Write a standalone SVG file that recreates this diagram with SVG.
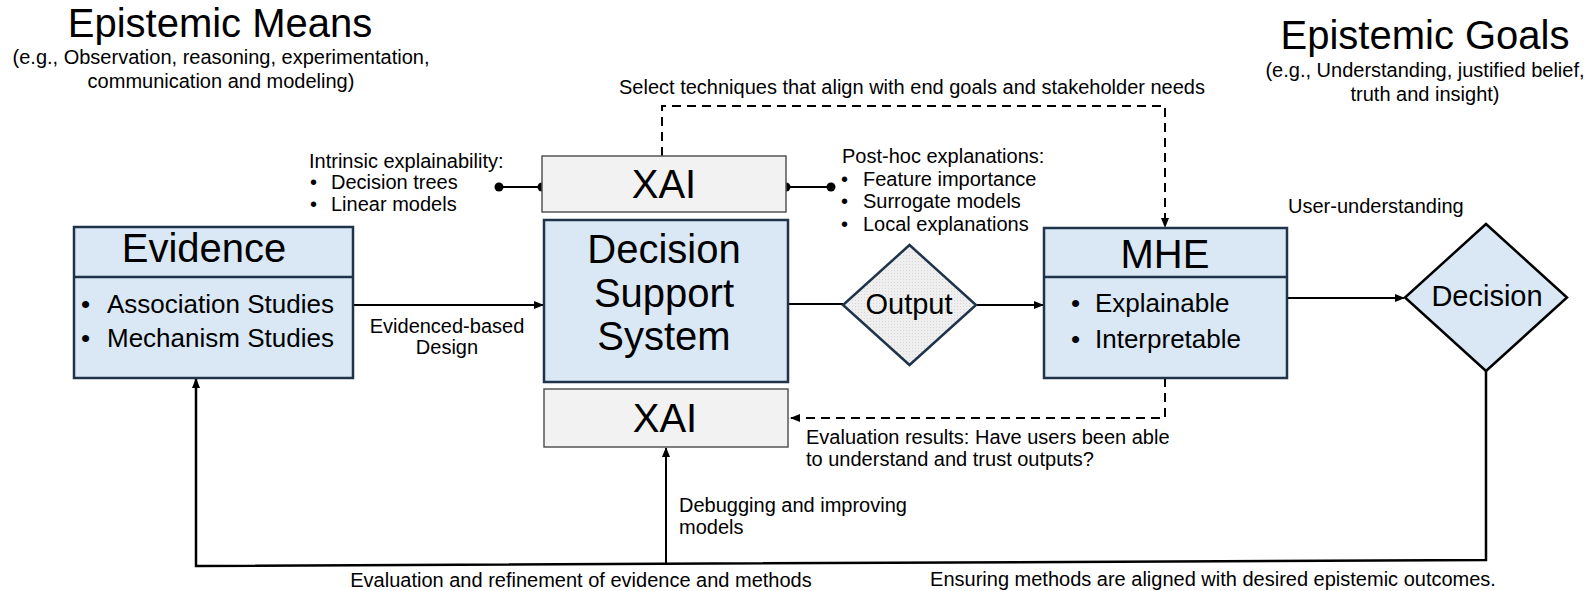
<svg xmlns="http://www.w3.org/2000/svg" width="1590" height="591" viewBox="0 0 1590 591">
<defs>
<style>
text{font-family:"Liberation Sans",Arial,sans-serif;fill:#000}
.h{font-size:40px}
.s{font-size:20px}
.b{font-size:26px}
.m{text-anchor:middle}
.box{fill:#dae8f5;stroke:#1f344a;stroke-width:2.5}
.xai{fill:#f2f2f2;stroke:#555;stroke-width:1.5}
.ln{fill:none;stroke:#000;stroke-width:2}
.fb{fill:none;stroke:#000;stroke-width:2.5}
.dash{fill:none;stroke:#000;stroke-width:2;stroke-dasharray:9 6}
.dot{fill:#000}
</style>
<marker id="ah" viewBox="0 0 10 10" refX="9" refY="5" markerWidth="10" markerHeight="10" markerUnits="userSpaceOnUse" orient="auto"><path d="M0,1 L10,5 L0,9 z" fill="#000"/></marker>
<pattern id="dots" width="3" height="3" patternUnits="userSpaceOnUse"><rect width="3" height="3" fill="#efefef"/><rect width="1" height="1" fill="#d6d6d6"/></pattern>
</defs>

<g id="title-means">
<text class="h m" x="220" y="37">Epistemic Means</text>
<text class="s m" x="221" y="64">(e.g., Observation, reasoning, experimentation,</text>
<text class="s m" x="221" y="88">communication and modeling)</text>
</g>

<g id="title-goals">
<text class="h m" x="1425" y="49">Epistemic Goals</text>
<text class="s m" x="1425" y="77">(e.g., Understanding, justified belief,</text>
<text class="s m" x="1425" y="101">truth and insight)</text>
</g>

<g id="connectors">
<line class="ln" x1="353" y1="305" x2="543" y2="305" marker-end="url(#ah)"/>
<line class="ln" x1="788" y1="304" x2="843" y2="304"/>
<line class="ln" x1="976" y1="305" x2="1043" y2="305" marker-end="url(#ah)"/>
<line class="ln" x1="1287" y1="298" x2="1404" y2="298" marker-end="url(#ah)"/>
<line class="ln" x1="499" y1="187" x2="542" y2="187"/>
<circle class="dot" cx="499" cy="187" r="4.5"/>
<circle class="dot" cx="542" cy="187" r="4.5"/>
<line class="ln" x1="786" y1="187" x2="831" y2="187"/>
<circle class="dot" cx="786" cy="187" r="4.5"/>
<circle class="dot" cx="831" cy="187" r="4.5"/>
<path class="dash" d="M662,156 V106 H1165 V227" marker-end="url(#ah)"/>
<path class="dash" d="M1165,378 V418 H791" marker-end="url(#ah)"/>
<path class="fb" d="M1486,371 V560 L196,566 V379" marker-end="url(#ah)"/>
<line class="ln" x1="666" y1="564" x2="666" y2="448" marker-end="url(#ah)"/>
</g>

<g id="labels">
<text class="s" x="309" y="168">Intrinsic explainability:</text>
<text class="s" y="189"><tspan x="310">•</tspan><tspan x="331">Decision trees</tspan></text>
<text class="s" y="211"><tspan x="310">•</tspan><tspan x="331">Linear models</tspan></text>
<text class="s" x="842" y="163">Post-hoc explanations:</text>
<text class="s" y="185.5"><tspan x="841">•</tspan><tspan x="863">Feature importance</tspan></text>
<text class="s" y="208"><tspan x="841">•</tspan><tspan x="863">Surrogate models</tspan></text>
<text class="s" y="230.5"><tspan x="841">•</tspan><tspan x="863">Local explanations</tspan></text>
<text class="s" x="619" y="94">Select techniques that align with end goals and stakeholder needs</text>
<text class="s m" x="447" y="333">Evidenced-based</text>
<text class="s m" x="447" y="354">Design</text>
<text class="s" x="1288" y="213">User-understanding</text>
<text class="s" x="806" y="444">Evaluation results: Have users been able</text>
<text class="s" x="806" y="466">to understand and trust outputs?</text>
<text class="s" x="679" y="512">Debugging and improving</text>
<text class="s" x="679" y="534">models</text>
<text class="s m" x="581" y="587">Evaluation and refinement of evidence and methods</text>
<text class="s m" x="1213" y="586">Ensuring methods are aligned with desired epistemic outcomes.</text>
</g>

<g id="evidence">
<rect class="box" x="74" y="227" width="279" height="151"/>
<line x1="74" y1="277" x2="353" y2="277" stroke="#1f344a" stroke-width="2.5"/>
<text class="h m" x="204" y="262">Evidence</text>
<text class="b" y="313"><tspan x="81">•</tspan><tspan x="107">Association Studies</tspan></text>
<text class="b" y="347"><tspan x="81">•</tspan><tspan x="107">Mechanism Studies</tspan></text>
</g>

<g id="xai-top">
<rect class="xai" x="542" y="156" width="244" height="56"/>
<text class="h m" x="664" y="198">XAI</text>
</g>

<g id="dss">
<rect class="box" x="544" y="220" width="244" height="162"/>
<text class="h m" x="664" y="263">Decision</text>
<text class="h m" x="664" y="307">Support</text>
<text class="h m" x="664" y="350">System</text>
</g>

<g id="xai-bottom">
<rect class="xai" x="544" y="389" width="244" height="58"/>
<text class="h m" x="665" y="432">XAI</text>
</g>

<g id="output">
<polygon points="909.5,245 976,305 909.5,365 843,305" fill="url(#dots)" stroke="#1f344a" stroke-width="2.5"/>
<text class="m" x="909" y="314" style="font-size:29px">Output</text>
</g>

<g id="mhe">
<rect class="box" x="1044" y="228" width="243" height="150"/>
<line x1="1044" y1="277" x2="1287" y2="277" stroke="#1f344a" stroke-width="2.5"/>
<text class="h m" x="1165" y="268">MHE</text>
<text class="b" y="312"><tspan x="1071">•</tspan><tspan x="1095">Explainable</tspan></text>
<text class="b" y="348"><tspan x="1071">•</tspan><tspan x="1095">Interpretable</tspan></text>
</g>

<g id="decision">
<polygon points="1486,224 1567,297.5 1486,371 1405,297.5" fill="#dae8f5" stroke="#000" stroke-width="2.5"/>
<text class="m" x="1487" y="306" style="font-size:29px">Decision</text>
</g>
</svg>
